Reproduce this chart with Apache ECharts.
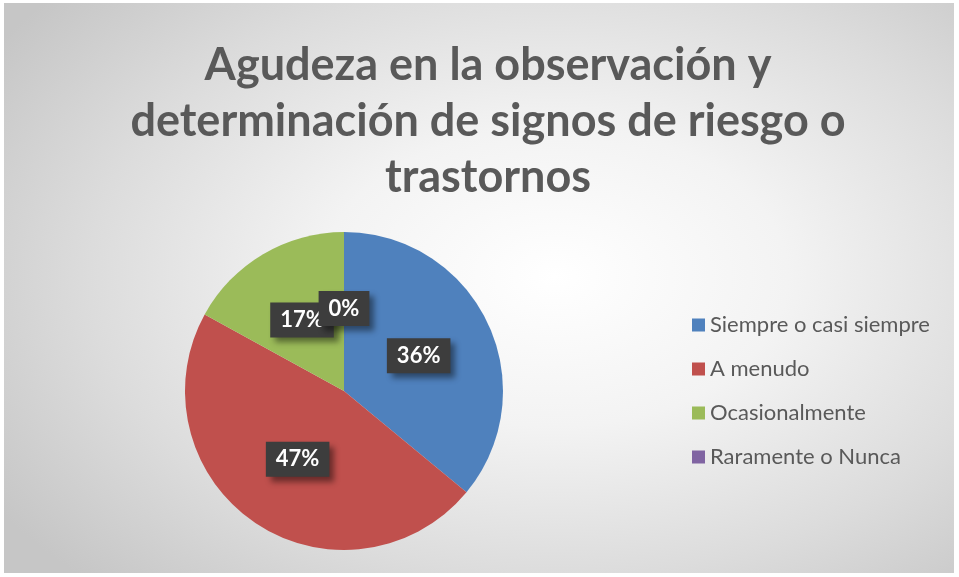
<!DOCTYPE html>
<html>
<head>
<meta charset="utf-8">
<script src="https://cdn.jsdelivr.net/npm/echarts@6/dist/echarts.min.js"></script>
<style>
  html, body { margin: 0; padding: 0; background: #ffffff; }
  #main {
    position: absolute; left: 4px; top: 3px; width: 950px; height: 570px;
    background: radial-gradient(ellipse 70% 75% at 58% 48%, #ffffff 0%, #f3f3f3 35%, #dcdcdc 70%, #c6c6c6 100%);
  }
</style>
</head>
<body>
<div id="main"></div>
<script>
// chart data
const titleLines = ['Agudeza en la observación y', 'determinación de signos de riesgo o', 'trastornos'];
const categories = ['Siempre o casi siempre', 'A menudo', 'Ocasionalmente', 'Raramente o Nunca'];
const values = [36, 47, 17, 0];
const colors = ['#4f81bd', '#c0504d', '#9bbb59', '#8064a2'];

let chart = echarts.init(document.getElementById('main'));
let pieData = categories.map((name, i) => ({
    name: name,
    value: values[i],
    itemStyle: { color: colors[i] }
}));

let option = {
    animation: false,
    graphic: [{
        type: 'text',
        x: 484,
        y: 34,
        style: {
            text: titleLines.join('\n'),
            font: 'bold 45px Lato, "Open Sans", sans-serif',
            fill: '#595959',
            align: 'center',
            verticalAlign: 'top',
            lineHeight: 56
        }
    }],
    legend: {
        orient: 'vertical',
        left: 688,
        top: 311,
        padding: 0,
        icon: 'rect',
        itemWidth: 13,
        itemHeight: 13,
        itemGap: 22,
        textStyle: {
            color: '#595959',
            fontSize: 22,
            lineHeight: 22,
            fontFamily: 'Lato, "Open Sans", sans-serif'
        },
        data: categories
    },
    series: [{
        type: 'pie',
        center: [340, 388],
        radius: 159,
        startAngle: 90,
        avoidLabelOverlap: false,
        minShowLabelAngle: 0,
        // the 0% box overlaps the 17% box, keep both like the original
        labelLayout: { hideOverlap: false },
        label: {
            show: true,
            position: 'inside',
            formatter: p => Math.round(p.percent) + '%',
            color: '#ffffff',
            fontSize: 22,
            fontWeight: 'bold',
            fontFamily: 'Lato, "Open Sans", sans-serif',
            backgroundColor: '#3d3d3d',
            padding: [7, 10, 6, 10],
            shadowColor: 'rgba(0,0,0,0.45)',
            shadowBlur: 6,
            shadowOffsetX: 5,
            shadowOffsetY: 5
        },
        data: pieData
    }]
};

chart.setOption(option);
</script>
</body>
</html>
